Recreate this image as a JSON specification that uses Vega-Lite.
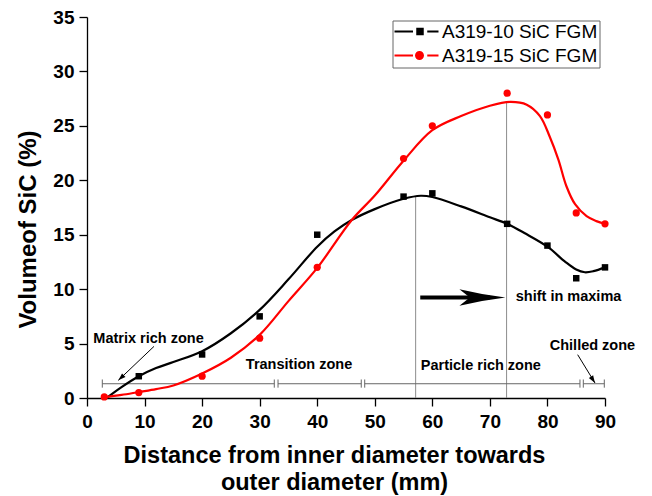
{
  "$schema": "https://vega.github.io/schema/vega-lite/v6.json",
  "width": 518,
  "height": 381,
  "autosize": "none",
  "padding": {"left": 87, "top": 17, "right": 47, "bottom": 98},
  "background": "white",
  "config": {"view": {"stroke": null}, "font": "Liberation Sans", "axis": {"grid": false}},
  "datasets": {
    "points": [
      {"series": "A319-10 SiC FGM", "x": 9, "y": 2},
      {"series": "A319-10 SiC FGM", "x": 20, "y": 4},
      {"series": "A319-10 SiC FGM", "x": 30, "y": 7.5},
      {"series": "A319-10 SiC FGM", "x": 40, "y": 15},
      {"series": "A319-10 SiC FGM", "x": 55, "y": 18.5},
      {"series": "A319-10 SiC FGM", "x": 60, "y": 18.8},
      {"series": "A319-10 SiC FGM", "x": 73, "y": 16},
      {"series": "A319-10 SiC FGM", "x": 80, "y": 14},
      {"series": "A319-10 SiC FGM", "x": 85, "y": 11},
      {"series": "A319-10 SiC FGM", "x": 90, "y": 12},
      {"series": "A319-15 SiC FGM", "x": 3, "y": 0.1},
      {"series": "A319-15 SiC FGM", "x": 9, "y": 0.5},
      {"series": "A319-15 SiC FGM", "x": 20, "y": 2},
      {"series": "A319-15 SiC FGM", "x": 30, "y": 5.5},
      {"series": "A319-15 SiC FGM", "x": 40, "y": 12},
      {"series": "A319-15 SiC FGM", "x": 55, "y": 22},
      {"series": "A319-15 SiC FGM", "x": 60, "y": 25},
      {"series": "A319-15 SiC FGM", "x": 73, "y": 28},
      {"series": "A319-15 SiC FGM", "x": 80, "y": 26},
      {"series": "A319-15 SiC FGM", "x": 85, "y": 17},
      {"series": "A319-15 SiC FGM", "x": 90, "y": 16}
    ],
    "fit": [
      {"series": "A319-10 SiC FGM", "x": 3.4, "y": 0},
      {"series": "A319-10 SiC FGM", "x": 6, "y": 1.0},
      {"series": "A319-10 SiC FGM", "x": 9, "y": 2.0},
      {"series": "A319-10 SiC FGM", "x": 12, "y": 2.75},
      {"series": "A319-10 SiC FGM", "x": 15, "y": 3.3},
      {"series": "A319-10 SiC FGM", "x": 20, "y": 4.3},
      {"series": "A319-10 SiC FGM", "x": 25, "y": 5.95},
      {"series": "A319-10 SiC FGM", "x": 30, "y": 8.1},
      {"series": "A319-10 SiC FGM", "x": 35, "y": 10.9},
      {"series": "A319-10 SiC FGM", "x": 40, "y": 13.9},
      {"series": "A319-10 SiC FGM", "x": 43, "y": 15.3},
      {"series": "A319-10 SiC FGM", "x": 46, "y": 16.35},
      {"series": "A319-10 SiC FGM", "x": 50, "y": 17.35},
      {"series": "A319-10 SiC FGM", "x": 55, "y": 18.3},
      {"series": "A319-10 SiC FGM", "x": 58, "y": 18.58},
      {"series": "A319-10 SiC FGM", "x": 60, "y": 18.46},
      {"series": "A319-10 SiC FGM", "x": 65, "y": 17.6},
      {"series": "A319-10 SiC FGM", "x": 70, "y": 16.6},
      {"series": "A319-10 SiC FGM", "x": 73, "y": 16.0},
      {"series": "A319-10 SiC FGM", "x": 76, "y": 15.15},
      {"series": "A319-10 SiC FGM", "x": 80, "y": 13.9},
      {"series": "A319-10 SiC FGM", "x": 83, "y": 12.55},
      {"series": "A319-10 SiC FGM", "x": 85, "y": 11.8},
      {"series": "A319-10 SiC FGM", "x": 86.5, "y": 11.55},
      {"series": "A319-10 SiC FGM", "x": 88, "y": 11.65},
      {"series": "A319-10 SiC FGM", "x": 90, "y": 12.0},
      {"series": "A319-15 SiC FGM", "x": 2.8, "y": 0.05},
      {"series": "A319-15 SiC FGM", "x": 6, "y": 0.28},
      {"series": "A319-15 SiC FGM", "x": 9, "y": 0.55},
      {"series": "A319-15 SiC FGM", "x": 12, "y": 0.82},
      {"series": "A319-15 SiC FGM", "x": 15, "y": 1.15},
      {"series": "A319-15 SiC FGM", "x": 20, "y": 2.25},
      {"series": "A319-15 SiC FGM", "x": 25, "y": 3.7},
      {"series": "A319-15 SiC FGM", "x": 30, "y": 5.8},
      {"series": "A319-15 SiC FGM", "x": 35, "y": 8.9},
      {"series": "A319-15 SiC FGM", "x": 40, "y": 11.95},
      {"series": "A319-15 SiC FGM", "x": 46, "y": 16.35},
      {"series": "A319-15 SiC FGM", "x": 50, "y": 18.6},
      {"series": "A319-15 SiC FGM", "x": 55, "y": 21.8},
      {"series": "A319-15 SiC FGM", "x": 60, "y": 24.6},
      {"series": "A319-15 SiC FGM", "x": 65, "y": 25.9},
      {"series": "A319-15 SiC FGM", "x": 70, "y": 26.85},
      {"series": "A319-15 SiC FGM", "x": 73.5, "y": 27.2},
      {"series": "A319-15 SiC FGM", "x": 76.4, "y": 26.95},
      {"series": "A319-15 SiC FGM", "x": 78.7, "y": 25.9},
      {"series": "A319-15 SiC FGM", "x": 80.4, "y": 24.0},
      {"series": "A319-15 SiC FGM", "x": 81.9, "y": 21.9},
      {"series": "A319-15 SiC FGM", "x": 83.3, "y": 19.45},
      {"series": "A319-15 SiC FGM", "x": 84.8, "y": 17.8},
      {"series": "A319-15 SiC FGM", "x": 86.8, "y": 16.7},
      {"series": "A319-15 SiC FGM", "x": 88.5, "y": 16.25},
      {"series": "A319-15 SiC FGM", "x": 90, "y": 16.0}
    ],
    "maxima": [
      {"x": 57.1, "y": 18.5},
      {"x": 72.9, "y": 27.1}
    ],
    "zones": [
      {"x": 2.66, "x2": 32.54, "y": 1.31},
      {"x": 33.19, "x2": 47.65, "y": 1.31},
      {"x": 48.25, "x2": 85.65, "y": 1.31},
      {"x": 86.23, "x2": 89.88, "y": 1.31}
    ],
    "caps": [
      {"x": 2.66, "y": 0.95, "y2": 1.7},
      {"x": 32.54, "y": 0.95, "y2": 1.7},
      {"x": 33.19, "y": 0.95, "y2": 1.7},
      {"x": 47.65, "y": 0.95, "y2": 1.7},
      {"x": 48.25, "y": 0.95, "y2": 1.7},
      {"x": 85.65, "y": 0.95, "y2": 1.7},
      {"x": 86.23, "y": 0.95, "y2": 1.7},
      {"x": 89.88, "y": 0.95, "y2": 1.7}
    ],
    "labels": [
      {"label": "Matrix rich zone", "x": 1.1, "y": 5.42},
      {"label": "Transition zone", "x": 27.6, "y": 3.03},
      {"label": "Particle rich zone", "x": 58.0, "y": 2.9},
      {"label": "Chilled zone", "x": 80.4, "y": 4.74},
      {"label": "shift in maxima", "x": 74.5, "y": 9.24}
    ]
  },
  "layer": [
    {
      "data": {"name": "maxima"},
      "mark": {"type": "rule", "color": "#8c8c8c", "strokeWidth": 1},
      "encoding": {
        "x": {
          "field": "x", "type": "quantitative",
          "scale": {"domain": [0, 90], "nice": false, "zero": false},
          "axis": {
            "title": ["Distance from inner diameter towards", "outer diameter (mm)"],
            "values": [0, 5, 10, 15, 20, 25, 30, 35, 40, 45, 50, 55, 60, 65, 70, 75, 80, 85, 90],
            "labelExpr": "datum.value % 10 === 0 ? datum.label : ''",
            "tickSize": {"condition": {"test": "datum.value % 10 === 0", "value": 8}, "value": 4},
            "labelFontSize": 19, "labelFontWeight": "bold", "labelColor": "black",
            "labelPadding": 6, "labelFlush": false, "labelOverlap": false,
            "domainColor": "black", "domainWidth": 1.3, "tickColor": "black", "tickWidth": 1.3,
            "titleFontSize": 23.5, "titleFontWeight": "bold", "titleColor": "black",
            "titleLineHeight": 27, "titleX": 247, "titleY": 64.7,
            "titleBaseline": "alphabetic", "titleAlign": "center"
          }
        },
        "y": {
          "field": "y", "type": "quantitative",
          "scale": {"domain": [0, 35], "nice": false},
          "axis": {
            "title": "Volumeof SiC (%)",
            "values": [0, 2.5, 5, 7.5, 10, 12.5, 15, 17.5, 20, 22.5, 25, 27.5, 30, 32.5, 35],
            "labelExpr": "datum.value % 5 === 0 ? datum.label : ''",
            "tickSize": {"condition": {"test": "datum.value % 5 === 0", "value": 8}, "value": 4},
            "labelFontSize": 19, "labelFontWeight": "bold", "labelColor": "black",
            "labelPadding": 5, "labelFlush": false, "labelOverlap": false,
            "domainColor": "black", "domainWidth": 1.3, "tickColor": "black", "tickWidth": 1.3,
            "titleFontSize": 24, "titleFontWeight": "bold", "titleColor": "black",
            "titleAngle": -90, "titleX": -51.3, "titleY": 212,
            "titleBaseline": "alphabetic", "titleAlign": "center"
          }
        },
        "y2": {"datum": 0}
      }
    },
    {
      "data": {"name": "zones"},
      "mark": {"type": "rule", "color": "#666666", "strokeWidth": 1},
      "encoding": {
        "x": {"field": "x", "type": "quantitative"},
        "x2": {"field": "x2"},
        "y": {"field": "y", "type": "quantitative"}
      }
    },
    {
      "data": {"name": "caps"},
      "mark": {"type": "rule", "color": "#666666", "strokeWidth": 1},
      "encoding": {
        "x": {"field": "x", "type": "quantitative"},
        "y": {"field": "y", "type": "quantitative"},
        "y2": {"field": "y2"}
      }
    },
    {
      "data": {"name": "fit"},
      "transform": [{"filter": "datum.series === 'A319-10 SiC FGM'"}],
      "mark": {"type": "line", "interpolate": "catmull-rom", "strokeWidth": 2.2, "color": "#000000"},
      "encoding": {
        "x": {"field": "x", "type": "quantitative"},
        "y": {"field": "y", "type": "quantitative"}
      }
    },
    {
      "data": {"name": "fit"},
      "transform": [{"filter": "datum.series === 'A319-15 SiC FGM'"}],
      "mark": {"type": "line", "interpolate": "catmull-rom", "strokeWidth": 2.2, "color": "#ff0000"},
      "encoding": {
        "x": {"field": "x", "type": "quantitative"},
        "y": {"field": "y", "type": "quantitative"}
      }
    },
    {
      "data": {"name": "points"},
      "transform": [{"filter": "datum.series === 'A319-10 SiC FGM'"}],
      "mark": {"type": "point", "shape": "square", "filled": true, "size": 42, "opacity": 1, "color": "#000000"},
      "encoding": {
        "x": {"field": "x", "type": "quantitative"},
        "y": {"field": "y", "type": "quantitative"}
      }
    },
    {
      "data": {"name": "points"},
      "transform": [{"filter": "datum.series === 'A319-15 SiC FGM'"}],
      "mark": {"type": "point", "shape": "circle", "filled": true, "size": 52, "opacity": 1, "color": "#ff0000"},
      "encoding": {
        "x": {"field": "x", "type": "quantitative"},
        "y": {"field": "y", "type": "quantitative"}
      }
    },
    {
      "data": {"name": "points"},
      "mark": {"type": "point", "filled": true, "opacity": 0, "size": 100},
      "encoding": {
        "x": {"field": "x", "type": "quantitative"},
        "y": {"field": "y", "type": "quantitative"},
        "color": {
          "field": "series", "type": "nominal",
          "scale": {"domain": ["A319-10 SiC FGM", "A319-15 SiC FGM"], "range": ["#000000", "#ff0000"]},
          "legend": {
            "orient": "none", "legendX": 305.5, "legendY": 3.5, "title": null,
            "padding": 1.5, "strokeColor": "#666666", "fillColor": "white",
            "symbolSize": 100, "symbolStrokeWidth": 0, "symbolOpacity": 1,
            "labelFontSize": 19, "labelFont": "Liberation Sans", "labelColor": "black",
            "labelOffset": 29, "rowPadding": 4, "labelLimit": 400
          }
        },
        "shape": {
          "field": "series", "type": "nominal",
          "scale": {
            "domain": ["A319-10 SiC FGM", "A319-15 SiC FGM"],
            "range": [
              "M-1.8,-0.2H1.9V0.2H-1.8Z M4.75,-0.2H7V0.2H4.75Z M2.55,-0.75H4.05V0.75H2.55Z",
              "M-1.8,-0.2H1.9V0.2H-1.8Z M4.75,-0.2H7V0.2H4.75Z M4.1,0A0.9,0.9 0 1,1 2.3,0A0.9,0.9 0 1,1 4.1,0Z"
            ]
          },
          "legend": {
            "orient": "none", "legendX": 305.5, "legendY": 3.5, "title": null,
            "padding": 1.5, "strokeColor": "#666666", "fillColor": "white",
            "symbolSize": 100, "symbolStrokeWidth": 0, "symbolOpacity": 1,
            "labelFontSize": 19, "labelFont": "Liberation Sans", "labelColor": "black",
            "labelOffset": 29, "rowPadding": 4, "labelLimit": 400
          }
        }
      }
    },
    {
      "data": {"name": "labels"},
      "mark": {"type": "text", "align": "left", "baseline": "middle", "fontSize": 14.5, "fontWeight": "bold", "color": "black"},
      "encoding": {
        "x": {"field": "x", "type": "quantitative"},
        "y": {"field": "y", "type": "quantitative"},
        "text": {"field": "label"}
      }
    },
    {
      "data": {"values": [{"x": 57.9, "x2": 70, "y": 9.24}]},
      "mark": {"type": "rule", "color": "black", "strokeWidth": 4},
      "encoding": {
        "x": {"field": "x", "type": "quantitative"},
        "x2": {"field": "x2"},
        "y": {"field": "y", "type": "quantitative"}
      }
    },
    {
      "data": {"values": [{"x": 72.7, "y": 9.24}]},
      "mark": {"type": "point", "filled": true, "color": "black", "opacity": 1, "size": 2116,
               "shape": "M0,0 Q-1,-0.12 -2,-0.36 L-1.55,0 L-2,0.36 Q-1,0.12 0,0 Z"},
      "encoding": {
        "x": {"field": "x", "type": "quantitative"},
        "y": {"field": "y", "type": "quantitative"}
      }
    },
    {
      "data": {"values": [
        {"x": 11.64, "y": 4.74, "x2": 5.44, "y2": 1.62},
        {"x": 85.25, "y": 3.98, "x2": 88.26, "y2": 1.38}
      ]},
      "mark": {"type": "rule", "color": "black", "strokeWidth": 1},
      "encoding": {
        "x": {"field": "x", "type": "quantitative"},
        "x2": {"field": "x2"},
        "y": {"field": "y", "type": "quantitative"},
        "y2": {"field": "y2"}
      }
    },
    {
      "data": {"values": [{"x": 5.44, "y": 1.62}]},
      "mark": {"type": "point", "filled": true, "color": "black", "opacity": 1, "size": 100, "angle": 226.7,
               "shape": "M0,0 L-0.5,1.5 L0.5,1.5 Z"},
      "encoding": {
        "x": {"field": "x", "type": "quantitative"},
        "y": {"field": "y", "type": "quantitative"}
      }
    },
    {
      "data": {"values": [{"x": 88.26, "y": 1.38}]},
      "mark": {"type": "point", "filled": true, "color": "black", "opacity": 1, "size": 100, "angle": 147.8,
               "shape": "M0,0 L-0.5,1.5 L0.5,1.5 Z"},
      "encoding": {
        "x": {"field": "x", "type": "quantitative"},
        "y": {"field": "y", "type": "quantitative"}
      }
    }
  ]
}
